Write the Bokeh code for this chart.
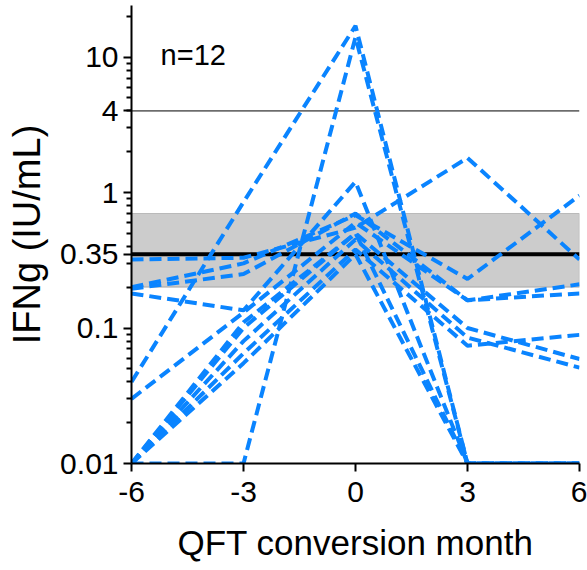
from bokeh.plotting import figure
from bokeh.models import (Range1d, FixedTicker, CustomJSTickFormatter, BoxAnnotation,
                          Span, Label)
from bokeh.embed import file_html
from bokeh.resources import INLINE

# ---- data -------------------------------------------------------------
months = [-6, -3, 0, 3, 6]
subj_a = [0.01, 0.01, 14.0, 0.01, 0.01]
subj_b = [0.04, 0.85, 17.0, 0.01, 0.01]
subj_c = [0.18, 0.135, 1.2, 0.01, 0.01]
subj_d = [0.32, 0.33, 0.55, 1.8, 0.32]
subj_e = [0.2, 0.3, 0.68, 0.23, 0.95]
subj_f = [0.195, 0.25, 0.7, 0.16, 0.21]
subj_g = [0.03, 0.13, 0.6, 0.16, 0.18]
subj_h = [0.01, 0.1, 0.5, 0.1, 0.059]
subj_i = [0.01, 0.08, 0.45, 0.085, 0.051]
subj_j = [0.01, 0.065, 0.38, 0.074, 0.089]
subj_k = [0.01, 0.055, 0.35, 0.01, 0.01]
subj_l = [0.01, 0.11, 0.5, 0.01, 0.01]
subjects = [subj_a, subj_b, subj_c, subj_d, subj_e, subj_f,
            subj_g, subj_h, subj_i, subj_j, subj_k, subj_l]

x_ticks = [-6, -3, 0, 3, 6]
y_ticks = [0.01, 0.1, 0.35, 1, 4, 10]
y_minor = [0.02, 0.03, 0.04, 0.05, 0.06, 0.07, 0.08, 0.09,
           0.2, 0.3, 0.4, 0.5, 0.6, 0.7, 0.8, 0.9,
           2, 3, 4, 5, 6, 7, 8, 9, 20]
cutoff = 0.35
band_low, band_high = 0.2, 0.7
upper_line = 4
n_label = "n=12"

FONT = "Liberation Sans"
BLUE = "#0a84ff"

p = figure(width=587, height=570, y_axis_type="log",
           x_range=Range1d(-6, 6), y_range=Range1d(0.01, 24),
           output_backend="svg", toolbar_location=None,
           min_border_left=131, min_border_right=8,
           min_border_top=5, min_border_bottom=107)
p.outline_line_color = None
p.xgrid.visible = False
p.ygrid.visible = False
p.background_fill_color = "white"

band = BoxAnnotation(bottom=band_low, top=band_high, fill_color="#cccccc",
                     fill_alpha=1.0, line_color="#555555", line_width=1.2,
                     level="underlay")
p.add_layout(band)
p.add_layout(Span(location=upper_line, dimension="width", line_color="black",
                  line_width=1, level="underlay"))
p.add_layout(Span(location=cutoff, dimension="width", line_color="black",
                  line_width=4, level="underlay"))

for s in subjects:
    p.line(months, s, line_color=BLUE, line_width=4, line_dash="12 6")

p.add_layout(Label(x=-5.22, y=10.3, text=n_label, text_font=FONT,
                   text_font_size="29px", text_color="black",
                   text_baseline="alphabetic"))

fmt = CustomJSTickFormatter(code="return tick.toString();")
for ax in (p.xaxis[0], p.yaxis[0]):
    ax.axis_line_width = 2
    ax.axis_line_color = "black"
    ax.major_tick_line_width = 2
    ax.minor_tick_line_width = 2
    ax.major_tick_in = 0
    ax.major_tick_out = 8
    ax.minor_tick_in = 0
    ax.minor_tick_out = 5
    ax.major_label_text_font = FONT
    ax.major_label_text_font_size = "30px"
    ax.major_label_text_color = "black"
    ax.axis_label_text_font = FONT
    ax.axis_label_text_font_style = "normal"
    ax.axis_label_text_color = "black"
    ax.formatter = fmt

p.xaxis.ticker = FixedTicker(ticks=x_ticks, minor_ticks=[])
p.yaxis.ticker = FixedTicker(ticks=y_ticks, minor_ticks=y_minor)
p.xaxis.axis_label = "QFT conversion month"
p.yaxis.axis_label = "IFNg (IU/mL)"
p.xaxis.axis_label_text_font_size = "35px"
p.yaxis.axis_label_text_font_size = "38px"
p.xaxis.major_label_standoff = 10
p.yaxis.major_label_standoff = 5
p.xaxis.axis_label_standoff = 18
p.yaxis.axis_label_standoff = 9

open("out.html", "w").write(file_html(p, INLINE))
